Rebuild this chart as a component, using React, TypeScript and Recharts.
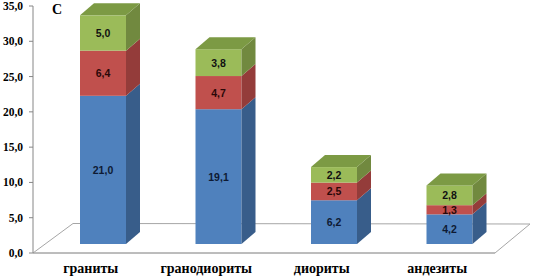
import React from 'react';
import { BarChart, Bar, XAxis, YAxis, ReferenceArea, LabelList } from 'recharts';

const categories = ['граниты', 'гранодиориты', 'диориты', 'андезиты'];
const seriesBlue = [21.0, 19.1, 6.2, 4.2];
const seriesRed = [6.4, 4.7, 2.5, 1.3];
const seriesGreen = [5.0, 3.8, 2.2, 2.8];
const yTicks = [0, 5, 10, 15, 20, 25, 30, 35];
const panelLetter = 'C';

const data = categories.map((name, i) => ({
  name,
  a: seriesBlue[i],
  b: seriesRed[i],
  c: seriesGreen[i],
}));

// 3D geometry (depth placement of bars within the floor)
const OX = 12;
const OY = -9;
const DX = 14;
const DY = -12;

const fmt = (v: number) => Number(v).toFixed(1).replace('.', ',');

const serif = '"Liberation Serif", "DejaVu Serif", serif';
const sans = '"Liberation Sans", sans-serif';

type Pal = { front: string; side: string; top: string };
const blue: Pal = { front: '#4F81BD', side: '#385D8A', top: '#3F6A9E' };
const red: Pal = { front: '#C0504D', side: '#943C3A', top: '#A84442' };
const green: Pal = { front: '#9BBB59', side: '#71893F', top: '#7C9A44' };

const makeShape = (pal: Pal, isTop: boolean) => (props: any) => {
  const { x, y, width, height } = props;
  if (x == null || y == null || !width || !height) return null;
  const fx = x + OX;
  const fy = y + OY;
  const side = `${fx + width},${fy} ${fx + width + DX},${fy + DY} ${fx + width + DX},${fy + height + DY} ${fx + width},${fy + height}`;
  const top = `${fx},${fy} ${fx + DX},${fy + DY} ${fx + width + DX},${fy + DY} ${fx + width},${fy}`;
  return (
    <g>
      <rect x={fx} y={fy} width={width} height={height} fill={pal.front} />
      <polygon points={side} fill={pal.side} />
      {isTop && <polygon points={top} fill={pal.top} />}
    </g>
  );
};

const makeLabel = (color: string) => (props: any) => {
  const { x, y, width, height, value } = props;
  if (x == null || y == null) return null;
  return (
    <text
      x={x + OX + width / 2}
      y={y + OY + height / 2}
      textAnchor="middle"
      dominantBaseline="central"
      fontFamily={sans}
      fontWeight={700}
      fontSize={10.5}
      fill={color}
    >
      {fmt(value)}
    </text>
  );
};

const XTick = (props: any) => {
  const { x, y, payload } = props;
  return (
    <text
      x={x}
      y={y + 12}
      textAnchor="middle"
      fontFamily={serif}
      fontWeight={700}
      fontSize={14}
      fill="#000"
    >
      {payload.value}
    </text>
  );
};

const YTick = (props: any) => {
  const { x, y, payload } = props;
  return (
    <text
      x={x}
      y={y}
      textAnchor="end"
      dominantBaseline="central"
      fontFamily={serif}
      fontWeight={700}
      fontSize={11.5}
      fill="#000"
    >
      {fmt(payload.value)}
    </text>
  );
};

const Floor = (props: any) => {
  const { x, y, width, height } = props;
  if (x == null) return null;
  const b = y + height;
  const pts = `${x},${b} ${x + 40},${b - 29.5} ${x + width + 35},${b - 29} ${x + width},${b}`;
  return <polygon points={pts} fill="none" stroke="#A6A6A6" strokeWidth={1} />;
};

export default function App() {
  return (
    <div style={{ position: 'absolute', left: 0, top: 0, width: 534, height: 280, background: '#fff' }}>
      <BarChart
        width={534}
        height={280}
        data={data}
        margin={{ top: 6, right: 39, bottom: 0, left: 0 }}
        barSize={46}
      >
        <ReferenceArea y1={0} y2={35} shape={<Floor />} ifOverflow="visible" />
        <XAxis
          dataKey="name"
          axisLine={{ stroke: '#A6A6A6' }}
          tickLine={false}
          height={27}
          tickMargin={2}
          tick={<XTick />}
          interval={0}
        />
        <YAxis
          domain={[0, 35]}
          ticks={yTicks}
          width={33}
          axisLine={{ stroke: '#868686' }}
          tickLine={{ stroke: '#868686' }}
          tickSize={4}
          tickMargin={6}
          tick={<YTick />}
          interval={0}
        />
        <Bar dataKey="a" stackId="s" isAnimationActive={false} shape={makeShape(blue, false)}>
          <LabelList dataKey="a" content={makeLabel('#0E1A33')} />
        </Bar>
        <Bar dataKey="b" stackId="s" isAnimationActive={false} shape={makeShape(red, false)}>
          <LabelList dataKey="b" content={makeLabel('#2A0808')} />
        </Bar>
        <Bar dataKey="c" stackId="s" isAnimationActive={false} shape={makeShape(green, true)}>
          <LabelList dataKey="c" content={makeLabel('#111')} />
        </Bar>
        <text x={52} y={14} fontFamily={serif} fontWeight={700} fontSize={14} fill="#000">
          {panelLetter}
        </text>
      </BarChart>
    </div>
  );
}
